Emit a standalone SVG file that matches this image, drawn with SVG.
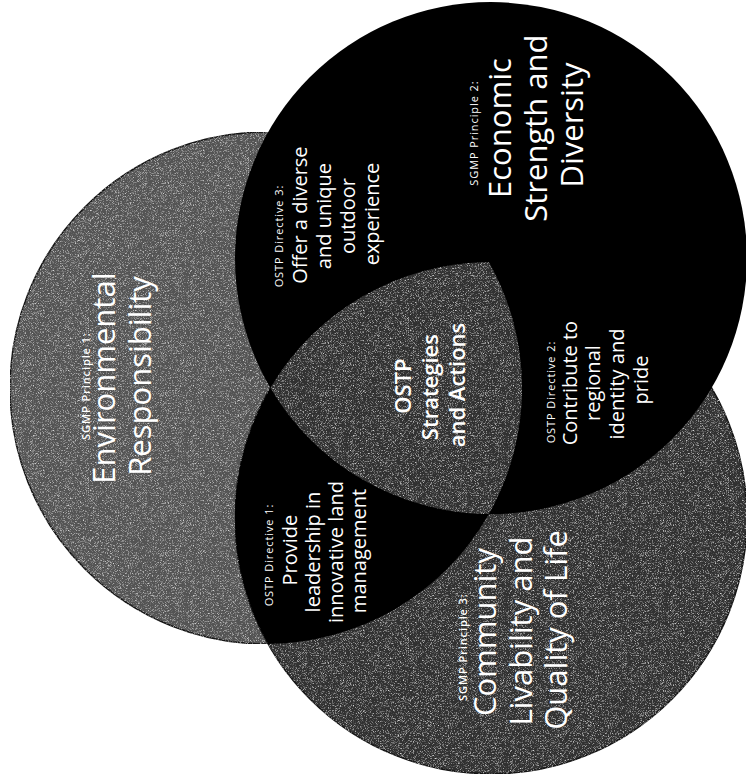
<svg xmlns="http://www.w3.org/2000/svg" width="746" height="782" viewBox="0 0 746 782">
  <style>
    text { font-family: "Open Sans", "Noto Sans", "Liberation Sans", sans-serif; fill: #ffffff; text-anchor: middle; }
    .lbl { font-size: 11px; letter-spacing: 0.9px; }
    .lbl-b { font-size: 11px; letter-spacing: 0.9px; font-weight: 600; }
    .big { font-size: 31px; }
    .dir { font-size: 20px; }
    .core { font-size: 22px; font-weight: 600; }
    .grey-a { fill: #545454; }
    .grey-b { fill: #313131; }
    .edge { stroke: #141414; stroke-width: 1.5; }
    .ink { fill: #000000; }
  </style>
  <defs>
    <!-- fine speckle grain laid over the grey fields -->
    <filter id="grain" x="0" y="0" width="100%" height="100%" color-interpolation-filters="sRGB">
      <feTurbulence type="fractalNoise" baseFrequency="1.6" numOctaves="1" seed="7" result="noise"/>
      <feColorMatrix in="noise" type="matrix" values="0 0 0 0 0.85  0 0 0 0 0.85  0 0 0 0 0.85  3.2 0 0 0 -1.6" result="light"/>
      <feComposite in="light" in2="SourceGraphic" operator="in" result="speck"/>
      <feMerge><feMergeNode in="SourceGraphic"/><feMergeNode in="speck"/></feMerge>
    </filter>
  </defs>

  <!-- three equal circles, centres on an equilateral triangle -->
  <g id="regions">
    <circle id="env-circle" class="grey-a edge" cx="266" cy="388" r="256" filter="url(#grain)"/>
    <circle id="comm-circle" class="grey-b edge" cx="491" cy="517.9" r="256" filter="url(#grain)"/>
    <circle id="econ-circle" class="ink" cx="491" cy="258.1" r="256"/>
    <!-- environment / community overlap -->
    <path id="env-comm" class="ink" d="M488.8 261.9 A256 256 0 0 1 268.2 644 A256 256 0 0 1 488.8 261.9 Z"/>
    <!-- shared core of all three -->
    <path id="core" class="grey-b" filter="url(#grain)" d="M270.4 388 A256 256 0 0 1 488.8 261.9 A256 256 0 0 1 488.8 514.1 A256 256 0 0 1 270.4 388 Z"/>
  </g>

  <!-- all text runs bottom-to-top: rotate(-90), x = -centreY, y = baseline X -->
  <g id="principle-1">
    <text transform="rotate(-90)">
      <tspan class="lbl-b" x="-384" y="90">SGMP Principle 1:</tspan>
      <tspan class="big" x="-376" y="115">Environmental</tspan>
      <tspan class="big" x="-376" y="151">Responsibility</tspan>
    </text>
  </g>

  <g id="principle-2">
    <text transform="rotate(-90)">
      <tspan class="lbl" x="-131" y="478">SGMP Principle 2:</tspan>
      <tspan class="big" x="-126" y="511">Economic</tspan>
      <tspan class="big" x="-126" y="547">Strength and</tspan>
      <tspan class="big" x="-125" y="583">Diversity</tspan>
    </text>
  </g>

  <g id="principle-3">
    <text transform="rotate(-90)">
      <tspan class="lbl-b" x="-645" y="467">SGMP Principle 3:</tspan>
      <tspan class="big" x="-630" y="496">Community</tspan>
      <tspan class="big" x="-629" y="532">Livability and</tspan>
      <tspan class="big" x="-630" y="567">Quality of Life</tspan>
    </text>
  </g>

  <g id="directive-3">
    <text transform="rotate(-90)">
      <tspan class="lbl" x="-234" y="283">OSTP Directive 3:</tspan>
      <tspan class="dir" x="-213" y="307">Offer a diverse</tspan>
      <tspan class="dir" x="-214" y="331">and unique</tspan>
      <tspan class="dir" x="-214" y="355">outdoor</tspan>
      <tspan class="dir" x="-214" y="379">experience</tspan>
    </text>
  </g>

  <g id="directive-1">
    <text transform="rotate(-90)">
      <tspan class="lbl" x="-553" y="273">OSTP Directive 1:</tspan>
      <tspan class="dir" x="-548" y="297">Provide</tspan>
      <tspan class="dir" x="-550" y="320">leadership in</tspan>
      <tspan class="dir" x="-550" y="343">innovative land</tspan>
      <tspan class="dir" x="-551" y="366">management</tspan>
    </text>
  </g>

  <g id="directive-2">
    <text transform="rotate(-90)">
      <tspan class="lbl" x="-390" y="555">OSTP Directive 2:</tspan>
      <tspan class="dir" x="-381" y="577">Contribute to</tspan>
      <tspan class="dir" x="-381" y="600">regional</tspan>
      <tspan class="dir" x="-382" y="624">identity and</tspan>
      <tspan class="dir" x="-380" y="648">pride</tspan>
    </text>
  </g>

  <g id="strategies">
    <text transform="rotate(-90)">
      <tspan class="core" x="-384" y="411">OSTP</tspan>
      <tspan class="core" x="-385" y="438">Strategies</tspan>
      <tspan class="core" x="-385" y="465">and Actions</tspan>
    </text>
  </g>
</svg>
